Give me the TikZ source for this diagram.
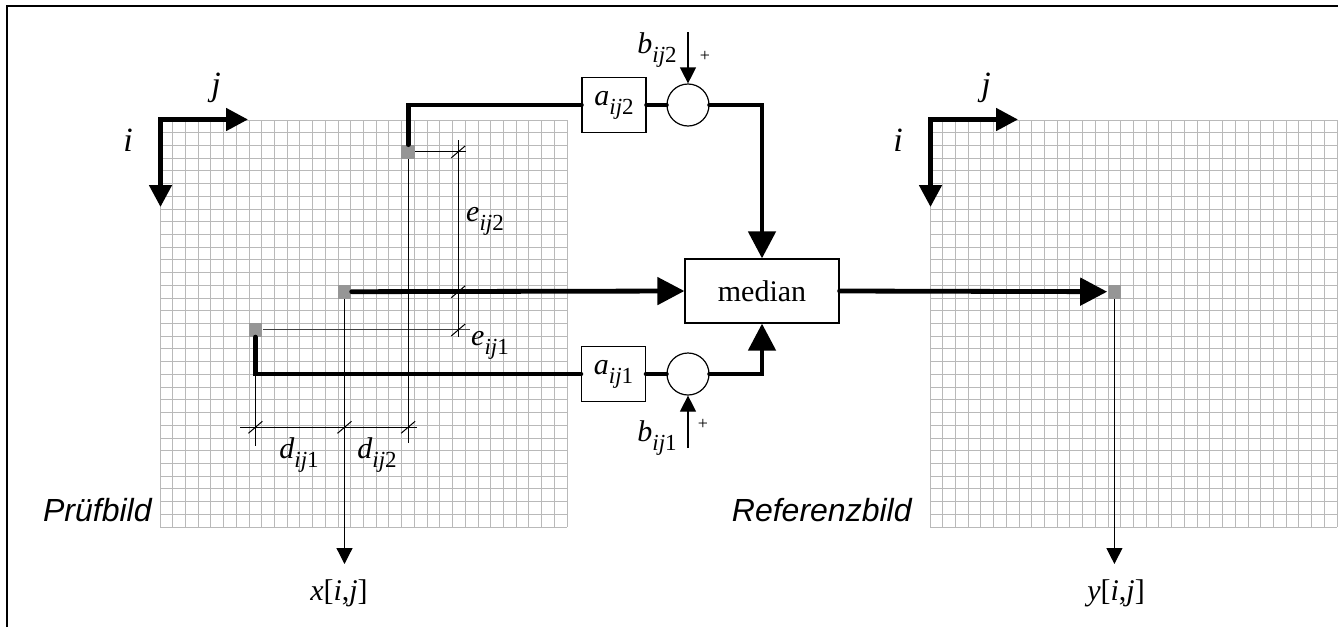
\documentclass[tikz,border=0pt]{standalone}
\usepackage{fontspec}
\setmainfont{Liberation Serif}
\newfontfamily\labelsans{Liberation Sans}
\usetikzlibrary{arrows.meta,calc}
\definecolor{gridgray}{RGB}{185,185,185}
\definecolor{pixgray}{RGB}{150,150,150}
\newcommand\symij[2]{\textit{#1}\raisebox{-4.5pt}{\fontsize{11.5}{11.5}\selectfont\textit{ij}#2}}
\tikzset{
  frameline/.style={line width=0.6pt},
  gridline/.style={draw=gridgray, line width=0.5pt},
  sigline/.style={line width=2.4pt, line join=miter, line cap=round},
  sigarrow/.style={sigline, -{Triangle[length=13.5pt,width=13.5pt]}},
  axisarrow/.style={line width=2.4pt, line join=miter, {Triangle[length=11pt,width=11pt]}-{Triangle[length=11pt,width=11pt]}},
  thinarrow/.style={line width=0.6pt, -{Triangle[length=8pt,width=8pt]}},
  dimline/.style={line width=0.5pt},
  pixel/.style={fill=pixgray, draw=none, minimum size=6.8pt, inner sep=0pt},
  blockbox/.style={draw, line width=0.6pt, minimum width=32pt, minimum height=27.5pt, inner sep=0pt, fill=white},
  sumnode/.style={draw, circle, line width=0.6pt, minimum size=21pt, inner sep=0pt, fill=white},
  medbox/.style={draw, line width=0.6pt, minimum width=77pt, minimum height=32pt, inner sep=0pt, fill=white, font=\fontsize{15}{18}\selectfont},
  lbl/.style={inner sep=0pt, font=\fontsize{15}{18}\selectfont},
  axlbl/.style={inner sep=0pt, font=\fontsize{17}{20}\selectfont\itshape},
  pluslbl/.style={inner sep=0pt, font=\fontsize{9}{10}\selectfont},
  sanslbl/.style={inner sep=0pt, font=\labelsans\itshape\fontsize{16}{19}\selectfont}
}
\begin{document}
\begin{tikzpicture}[x=0.5pt,y=-0.5pt]
\useasboundingbox (0,0) rectangle (1338,627);
\draw[frameline] (7,627) -- (7,6) -- (1338,6);
% grids
\foreach \k in {0,...,32}{
  \draw[gridline] (160+\k*12.72,120) -- ++(0,407);
  \draw[gridline] (160,120+\k*12.72) -- ++(407,0);
  \draw[gridline] (930+\k*12.72,120) -- ++(0,407);
  \draw[gridline] (930,120+\k*12.72) -- ++(407,0);
}
% axes
\coordinate (ltipv) at (160.5,207);
\coordinate (lcorner) at (160.5,119.5);
\coordinate (ltiph) at (248,119.5);
\draw[axisarrow] (ltipv) -- (lcorner) -- (ltiph);
\coordinate (rtipv) at (930.5,207);
\coordinate (rcorner) at (930.5,119.5);
\coordinate (rtiph) at (1018,119.5);
\draw[axisarrow] (rtipv) -- (rcorner) -- (rtiph);
\node[axlbl] (li) at (128,140) {i};
\node[axlbl] (lj) at (216,88) {j};
\node[axlbl] (ri) at (898,140) {i};
\node[axlbl] (rj) at (986,88) {j};
% pixels
\node[pixel] (p2) at (408.1,151.8) {};
\node[pixel] (p1) at (344.5,291.7) {};
\node[pixel] (p0) at (255.4,329.9) {};
\node[pixel] (pr) at (1114.4,291.7) {};
% dimension lines
\coordinate (e2end) at (466,151.8);
\coordinate (e0end) at (470,329.9);
\coordinate (evtop) at (458.3,140);
\coordinate (evbot) at (458.3,337);
\coordinate (d2bot) at (408.1,443);
\coordinate (d0bot) at (255.4,446);
\coordinate (dhl) at (240,427.3);
\coordinate (dhr) at (417,427.3);
\draw[dimline] (p2.east) -- (e2end);
\draw[dimline, draw=black!75] (p0.east) -- (e0end);
\draw[dimline] (evtop) -- (evbot);
\draw[dimline] (p2.south) -- (d2bot);
\draw[dimline] (p0.south) -- (d0bot);
\draw[dimline] (dhl) -- (dhr);
\foreach \tx/\ty in {458.3/151.8, 458.3/291.7, 458.3/329.9, 255.4/427.3, 344.5/427.3, 408.1/427.3}{
  \draw[dimline] (\tx-7,\ty+6) -- (\tx+7,\ty-6);
}
% outputs
\coordinate (xout) at (344.5,564);
\coordinate (yout) at (1114.4,564);
\draw[thinarrow] (p1.south) -- (xout);
\draw[thinarrow] (pr.south) -- (yout);
% blocks
\node[blockbox] (a2) at (614,105) {\fontsize{15}{18}\selectfont\symij{a}{2}};
\node[sumnode] (c2) at (688,105) {};
\node[blockbox] (a1) at (613.5,374) {\fontsize{15}{18}\selectfont\symij{a}{1}};
\node[sumnode] (c1) at (688,374) {};
\node[medbox] (med) at (762,291) {median};
% signal paths
\draw[sigline] (p2.north) |- (a2.west);
\draw[sigline] (a2.east) -- (c2.west);
\draw[sigarrow] (c2.east) -| (med.north);
\draw[sigarrow] (p1.east) -- (med.west);
\draw[sigline] (p0.south) |- (a1.west);
\draw[sigline] (a1.east) -- (c1.west);
\draw[sigarrow] (c1.east) -| (med.south);
\draw[sigarrow] (med.east) -- (pr.west);
% offsets b
\coordinate (b2top) at (688,32);
\coordinate (b1bot) at (688,448);
\draw[thinarrow] (b2top) -- (c2.north);
\draw[thinarrow] (b1bot) -- (c1.south);
\node[lbl] (lb2) at (657,50) {\symij{b}{2}};
\node[pluslbl] (pl2) at (705,56) {+};
\node[lbl] (lb1) at (657,438) {\symij{b}{1}};
\node[pluslbl] (pl1) at (703,424) {+};
% dimension labels
\node[lbl] (le2) at (485,221) {\symij{e}{2}};
\node[lbl] (le1) at (490,345) {\symij{e}{1}};
\node[lbl] (ld1) at (299,455) {\symij{d}{1}};
\node[lbl] (ld2) at (377,455) {\symij{d}{2}};
\node[lbl] (lx) at (339,593) {\textit{x}[\textit{i},\textit{j}]};
\node[lbl] (ly) at (1116,593) {\textit{y}[\textit{i},\textit{j}]};
% image names
\node[sanslbl, anchor=base east] (npruef) at (152,521.7) {Prüfbild};
\node[sanslbl, anchor=base east] (nref) at (912,521.7) {Referenzbild};
\end{tikzpicture}
\end{document}
